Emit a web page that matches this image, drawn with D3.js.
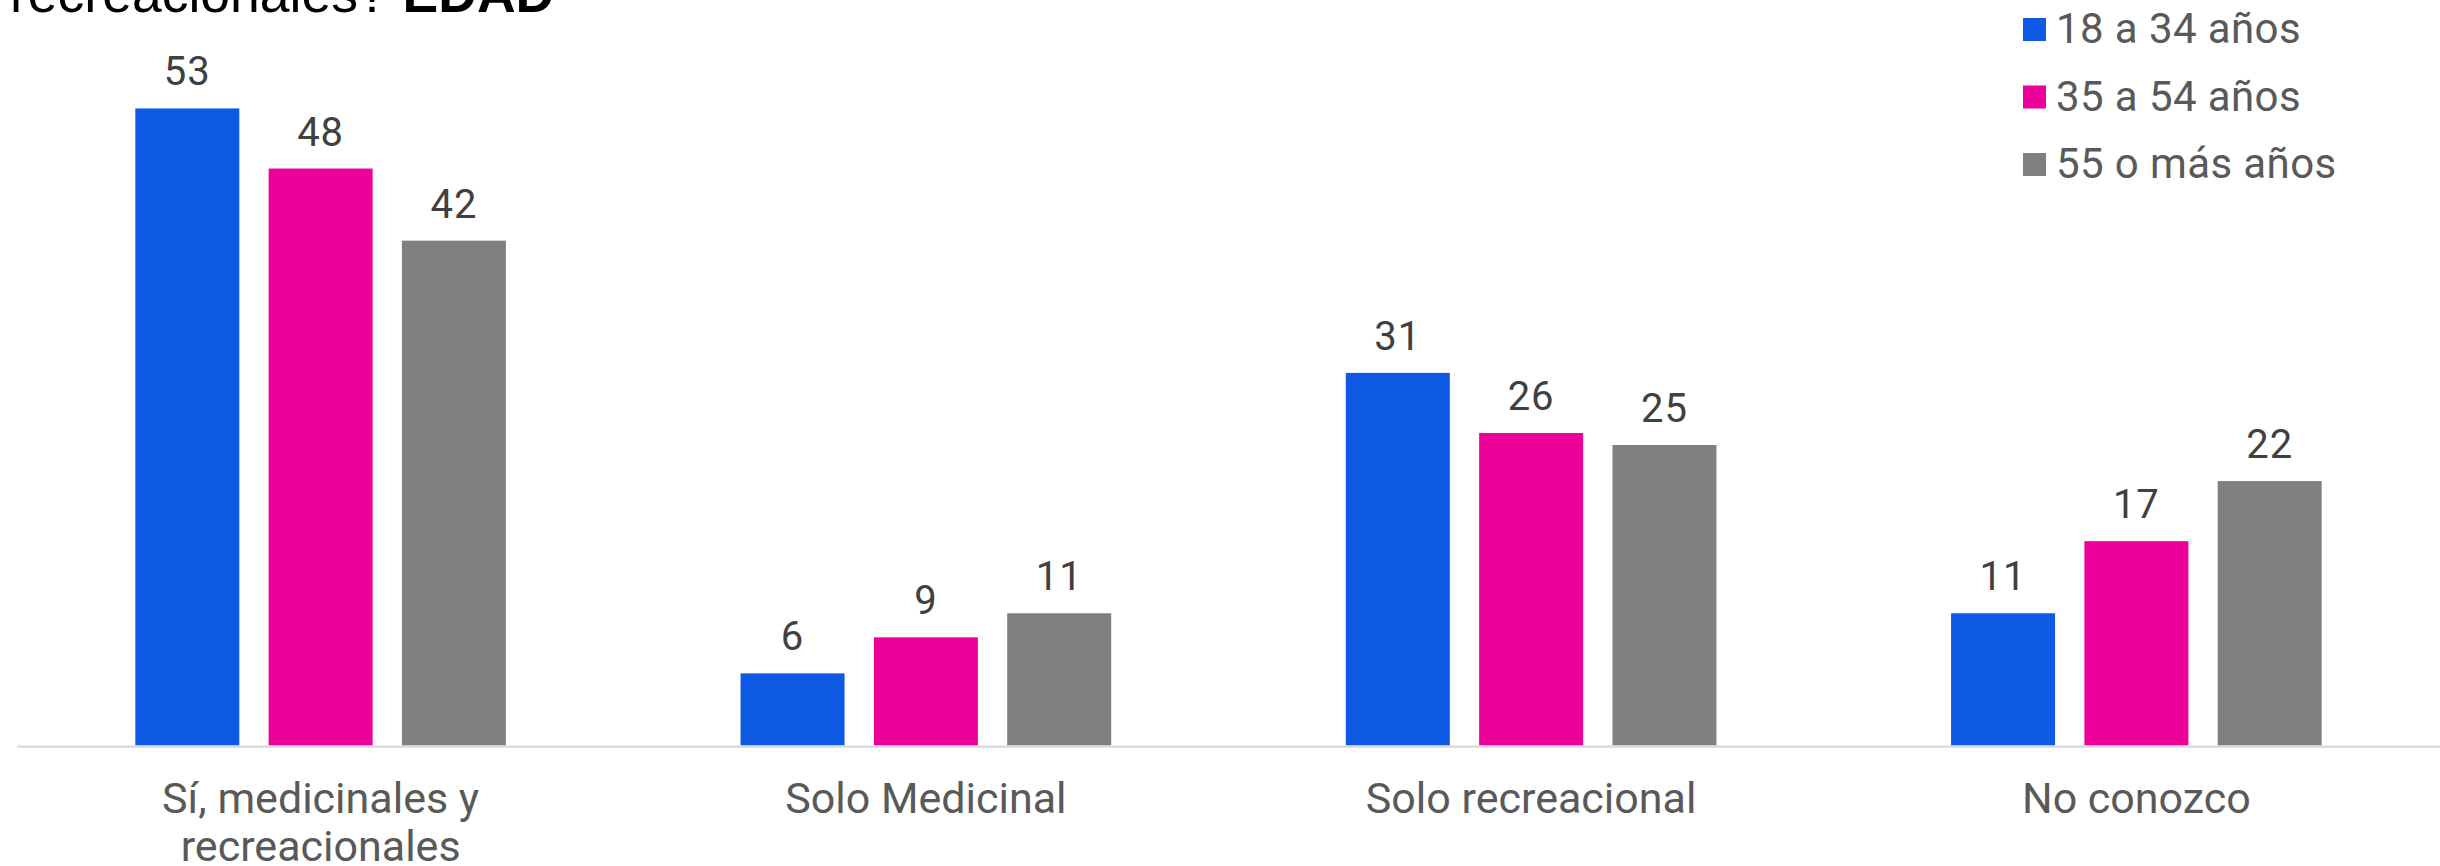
<!DOCTYPE html>
<html lang="es">
<head>
<meta charset="utf-8">
<script src="https://cdn.jsdelivr.net/npm/d3@7"></script>
<style>
  html, body { margin: 0; padding: 0; background: #ffffff; }
  svg { display: block; }
</style>
</head>
<body>
<svg id="chart" width="2440" height="866"></svg>
<script>
// Categorías del eje X
const categories = [
  "Sí, medicinales y recreacionales",
  "Solo Medicinal",
  "Solo recreacional",
  "No conozco"
];

// Grupos de edad (series)
const seriesNames = ["18 a 34 años", "35 a 54 años", "55 o más años"];

// Porcentajes por grupo de edad
const values18a34 = [53, 6, 31, 11];
const values35a54 = [48, 9, 26, 17];
const values55mas = [42, 11, 25, 22];

const seriesColors = ["#0E5AE4", "#EC0098", "#808080"];

// Título (segunda línea, la primera queda fuera del lienzo)
const titleText = "recreacionales? ";
const titleBold = "EDAD";

const seriesValues = [values18a34, values35a54, values55mas];
const rows = categories.map((c, i) => ({
  category: c,
  values: seriesNames.map((s, j) => ({ series: s, value: seriesValues[j][i], color: seriesColors[j] }))
}));

const svg = d3.select("#chart");

const baseY = 745.5;
const x0 = d3.scaleBand().domain(categories).range([18, 2439]).paddingInner(0).paddingOuter(0);
const x1 = d3.scaleBand().domain(seriesNames).range([0, x0.bandwidth()]).paddingInner(0.22).paddingOuter(0.88);
const y = d3.scaleLinear().domain([0, 60]).range([baseY, baseY - 60 * 12.02]);

// Título
svg.append("text")
  .attr("x", 10)
  .attr("y", 12)
  .attr("font-family", "'Liberation Sans', Arial, sans-serif")
  .attr("font-size", 53.5)
  .attr("fill", "#000000")
  .call(t => {
    t.append("tspan").text(titleText);
    t.append("tspan").attr("font-weight", "bold").text(titleBold);
  });

// Barras
const groups = svg.append("g").selectAll("g")
  .data(rows)
  .join("g")
  .attr("transform", d => `translate(${x0(d.category)},0)`);

groups.selectAll("rect")
  .data(d => d.values)
  .join("rect")
  .attr("x", d => x1(d.series))
  .attr("width", x1.bandwidth())
  .attr("y", d => y(d.value))
  .attr("height", d => y(0) - y(d.value))
  .attr("fill", d => d.color);

// Etiquetas de valor
groups.selectAll("text.value")
  .data(d => d.values)
  .join("text")
  .attr("class", "value")
  .attr("x", d => x1(d.series) + x1.bandwidth() / 2)
  .attr("y", d => y(d.value) - 23)
  .attr("text-anchor", "middle")
  .attr("font-family", "Roboto, sans-serif")
  .attr("font-size", 40)
  .attr("letter-spacing", 1)
  .attr("fill", "#404040")
  .text(d => d.value);

// Eje X
const xAxis = svg.append("g")
  .attr("transform", `translate(0,${baseY + 1.2})`)
  .call(d3.axisBottom(x0).tickSize(0).tickPadding(0));
xAxis.select(".domain").attr("stroke", "#D9D9D9").attr("stroke-width", 2.2)
  .attr("d", `M17,0H2440`);

xAxis.selectAll(".tick text")
  .attr("font-family", "Roboto, sans-serif")
  .attr("font-size", 43)
  .attr("fill", "#595959")
  .attr("y", 0)
  .attr("dy", 0)
  .each(function (d) {
    const text = d3.select(this);
    const words = d.split(/\s+/);
    const maxW = x0.bandwidth() - 120;
    text.text(null);
    let line = [];
    let lineNo = 0;
    let tspan = text.append("tspan").attr("x", 0).attr("y", 66.5);
    for (const w of words) {
      line.push(w);
      tspan.text(line.join(" "));
      if (tspan.node().getComputedTextLength() > maxW && line.length > 1) {
        line.pop();
        tspan.text(line.join(" "));
        line = [w];
        lineNo += 1;
        tspan = text.append("tspan").attr("x", 0).attr("y", 66.5 + lineNo * 47.5).text(w);
      }
    }
  });

// Leyenda
const legend = svg.append("g").attr("transform", "translate(2023,18)");
const items = legend.selectAll("g")
  .data(seriesNames)
  .join("g")
  .attr("transform", (d, i) => `translate(0,${i * 67.5})`);
items.append("rect")
  .attr("width", 23)
  .attr("height", 23)
  .attr("fill", (d, i) => seriesColors[i]);
items.append("text")
  .attr("x", 33)
  .attr("y", 25)
  .attr("font-family", "Roboto, sans-serif")
  .attr("font-size", 42)
  .attr("letter-spacing", 0.4)
  .attr("fill", "#595959")
  .text(d => d);
</script>
</body>
</html>
